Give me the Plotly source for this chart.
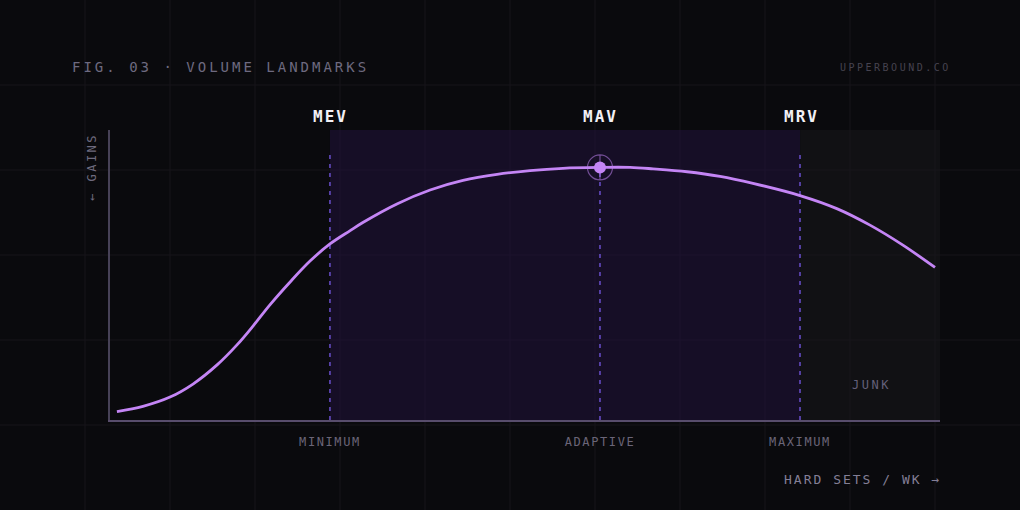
import plotly.graph_objects as go

# volume landmarks, hard sets per week
landmark_names = ["MEV", "MAV", "MRV"]
landmark_ticks = ["MINIMUM", "ADAPTIVE", "MAXIMUM"]
landmark_sets = [7.95, 17.71, 24.94]
peak_gain = 87.1

# stimulus-to-gains curve
curve_sets = [0.25, 1.19, 2.17, 3.00, 3.87, 4.59, 5.17, 5.78, 6.51, 7.23,
              7.95, 8.68, 9.14, 10.37, 11.57, 12.76, 13.99, 15.18, 16.37,
              17.71, 18.80, 19.63, 20.86, 22.05, 23.24, 24.94, 26.27, 27.47,
              28.66, 29.82]
curve_gain = [2.9, 4.7, 7.9, 12.4, 19.0, 25.9, 32.4, 39.7, 47.6, 54.8,
              60.7, 65.3, 68.1, 74.5, 79.3, 82.6, 84.7, 86.0, 86.8,
              87.1, 87.1, 86.6, 85.6, 84.0, 81.6, 77.4, 72.9, 67.2,
              60.3, 52.6]

x_max = 30
W, H = 1020, 510
MONO = "DejaVu Sans Mono"
BG = "#0a0a0d"
PURPLE = "#c485f5"
DASH = "#6a4fcc"


def spaced(text, px):
    return '<span style="letter-spacing:%spx">%s</span>' % (px, text)


fig = go.Figure()

# faint page grid, every 85px
shapes = []
for gx in range(85, W, 85):
    shapes.append(dict(type="line", xref="paper", yref="paper",
                       x0=gx / W, x1=gx / W, y0=0, y1=1,
                       line=dict(color="#16151b", width=1), layer="below"))
for gy in range(85, H, 85):
    shapes.append(dict(type="line", xref="paper", yref="paper",
                       x0=0, x1=1, y0=gy / H, y1=gy / H,
                       line=dict(color="#16151b", width=1), layer="below"))

# productive zone and junk zone
shapes.append(dict(type="rect", xref="x", yref="y domain",
                   x0=landmark_sets[0], x1=landmark_sets[2], y0=0, y1=1,
                   fillcolor="rgba(34,18,63,0.5)", line_width=0, layer="below"))
shapes.append(dict(type="rect", xref="x", yref="y domain",
                   x0=landmark_sets[2], x1=x_max, y0=0, y1=1,
                   fillcolor="rgba(24,24,27,0.5)", line_width=0, layer="below"))

# dashed landmark lines
for name, xs in zip(landmark_names, landmark_sets):
    if name == "MAV":
        shapes.append(dict(type="line", xref="x", yref="y",
                           x0=xs, x1=xs, y0=0, y1=peak_gain,
                           line=dict(color=DASH, width=1.5, dash="4px,5px"),
                           layer="below"))
    else:
        shapes.append(dict(type="line", xref="x", yref="y domain",
                           x0=xs, x1=xs, y0=0, y1=0.914,
                           line=dict(color=DASH, width=1.5, dash="4px,5px"),
                           layer="below"))

fig.add_trace(go.Scatter(
    x=curve_sets, y=curve_gain,
    mode="lines",
    line=dict(color=PURPLE, width=2.8, shape="spline", smoothing=1.0),
    hoverinfo="skip",
    showlegend=False
))

# peak marker with crosshair ring
fig.add_trace(go.Scatter(
    x=[landmark_sets[1]], y=[peak_gain],
    mode="markers",
    marker=dict(symbol="circle-cross-open", size=25,
                color="rgba(190,130,240,0.55)",
                line=dict(color="rgba(190,130,240,0.55)", width=1.2)),
    hoverinfo="skip",
    showlegend=False
))
fig.add_trace(go.Scatter(
    x=[landmark_sets[1]], y=[peak_gain],
    mode="markers",
    marker=dict(symbol="circle", size=12, color=PURPLE),
    hoverinfo="skip",
    showlegend=False
))

annotations = []
for name, xs in zip(landmark_names, landmark_sets):
    annotations.append(dict(
        x=xs, y=1, xref="x", yref="y domain",
        text=spaced("<b>%s</b>" % name, 2),
        showarrow=False, xanchor="center", yanchor="middle", yshift=14, xshift=1,
        font=dict(family=MONO, size=16, color="#f2f0f5")
    ))

annotations += [
    dict(x=70 / W, y=1 - 67 / H, xref="paper", yref="paper",
         text=spaced("FIG. 03 · VOLUME LANDMARKS", 3),
         showarrow=False, xanchor="left", yanchor="middle",
         font=dict(family=MONO, size=14, color="#6e6a80")),
    dict(x=953 / W, y=1 - 68 / H, xref="paper", yref="paper",
         text=spaced("UPPERBOUND.CO", 2.5),
         showarrow=False, xanchor="right", yanchor="middle",
         font=dict(family=MONO, size=10, color="#46434f")),
    dict(x=92 / W, y=1 - 167 / H, xref="paper", yref="paper",
         text=spaced("← GAINS", 2.5), textangle=-90,
         showarrow=False, xanchor="center", yanchor="middle",
         font=dict(family=MONO, size=12, color="#6e6a7e")),
    dict(x=(landmark_sets[2] + x_max) / 2, y=0, xref="x", yref="y domain",
         text=spaced("JUNK", 2.5),
         showarrow=False, xanchor="center", yanchor="middle", yshift=35, xshift=1,
         font=dict(family=MONO, size=12, color="#64607a")),
    dict(x=1, y=1 - 479 / H, xref="x domain", yref="paper",
         text=spaced("HARD SETS / WK →", 2),
         showarrow=False, xanchor="right", yanchor="middle", xshift=3,
         font=dict(family=MONO, size=13, color="#847f96")),
]

fig.update_layout(
    width=W, height=H, autosize=False,
    margin=dict(l=0, r=0, t=0, b=0),
    paper_bgcolor=BG,
    plot_bgcolor="rgba(0,0,0,0)",
    shapes=shapes,
    annotations=annotations,
    hovermode=False,
    xaxis=dict(
        domain=[110 / W, 940 / W], range=[0, x_max],
        showgrid=False, zeroline=False,
        showline=True, linecolor="#584d6c", linewidth=2,
        ticks="", tickvals=landmark_sets,
        ticktext=[spaced(t, 1.6) for t in landmark_ticks],
        tickfont=dict(family=MONO, size=12, color="#6a6578"),
        ticklabelstandoff=10,
        fixedrange=True
    ),
    yaxis=dict(
        domain=[1 - 420 / H, 1 - 130 / H], range=[0, 100],
        showgrid=False, zeroline=False,
        showline=True, linecolor="#474257", linewidth=1.5,
        ticks="", showticklabels=False,
        fixedrange=True
    ),
)

fig.write_html("out.html", config={"displayModeBar": False},
               post_script="document.body.style.margin='0';document.body.style.background='%s';" % BG)
